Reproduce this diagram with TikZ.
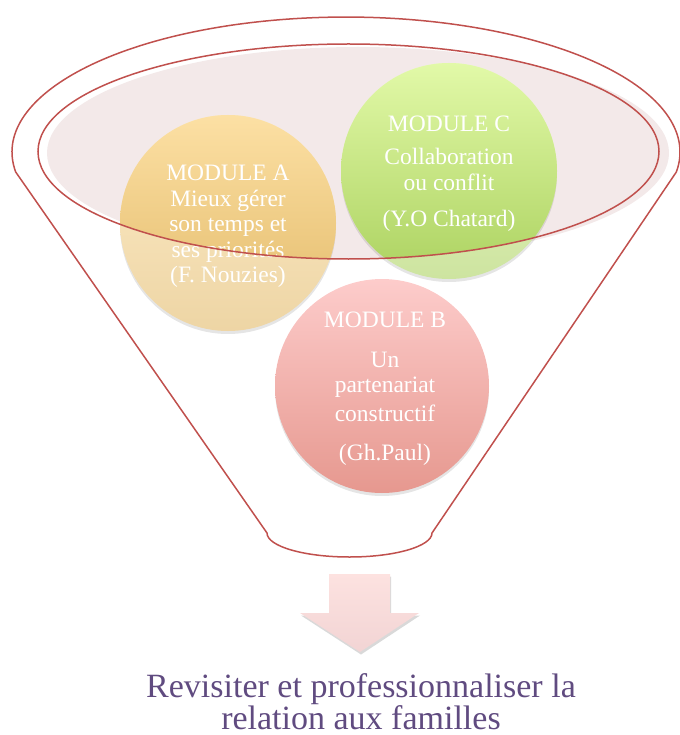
\documentclass[tikz,border=0pt]{standalone}
\usepackage{fontspec}
\setmainfont{Liberation Serif}
\definecolor{funnelred}{RGB}{192,80,77}
\definecolor{bowlpink}{RGB}{243,233,233}
\definecolor{atop}{RGB}{252,224,164}
\definecolor{abot}{RGB}{226,185,104}
\definecolor{ctop}{RGB}{226,249,168}
\definecolor{cbot}{RGB}{172,210,96}
\definecolor{btop}{RGB}{253,204,203}
\definecolor{bbot}{RGB}{230,152,143}
\definecolor{arrtop}{RGB}{253,226,224}
\definecolor{arrbot}{RGB}{242,212,212}
\definecolor{textpurple}{RGB}{96,75,128}
\begin{document}
\begin{tikzpicture}[x=1pt,y=-1pt,
 rim/.style={draw=funnelred,line width=1.5pt},
 modtext/.style={text=white,align=center,inner sep=0pt,anchor=north,font=\fontsize{23.5}{25.5}\selectfont},
 drop/.style={fill=black,opacity=0.1}]
 \useasboundingbox (0,0) rectangle (679,735);
 \fill[bowlpink](358,153) ellipse [x radius=311,y radius=106];
 \fill[drop](228,226) circle (108);
 \fill[drop](449,174) circle (108);
 \shade[top color=atop!60!white,bottom color=abot!60!white](228,223) circle (108);
 \shade[top color=ctop!60!white,bottom color=cbot!60!white](449,171) circle (108);
 \begin{scope}
 \clip (348.5,151.5) ellipse [x radius=310.5,y radius=107.5];
 \shade[top color=atop,bottom color=abot](228,223) circle (108);
 \shade[top color=ctop,bottom color=cbot](449,171) circle (108);
 \end{scope}
 \fill[drop](382,389) circle (107);
 \shade[top color=btop,bottom color=bbot](382,386) circle (107);
 \node[modtext] (modA) at (228,165) {MODULE A\\Mieux gérer\\son temps et\\ses priorités\\(F. Nouzies)};
 \node[modtext] (modC) at (449,116) {MODULE C\\[7pt]Collaboration\\[1pt]ou conflit\\[10pt](Y.O Chatard)};
 \node[modtext] (modB) at (385,312) {MODULE B\\[14pt]Un\\partenariat\\[3pt]constructif\\[14pt](Gh.Paul)};
 \draw[rim](348.5,151.5) ellipse [x radius=310.5,y radius=107.5];
 \draw[rim](15.7,172) arc [start angle=171.5,end angle=368.5,x radius=334,y radius=135] -- (432,533) arc [start angle=0,end angle=180,x radius=82.5,y radius=24] -- cycle;
 \fill[black,opacity=0.15](330,576.5)--(391,576.5)--(391,615.5)--(420,615.5)--(361,654.5)--(301,615.5)--(330,615.5)--cycle;
 \shade[top color=arrtop,bottom color=arrbot](329,574)--(390,574)--(390,613)--(419,613)--(360,652)--(300,613)--(329,613)--cycle;
 \node[anchor=north,inner sep=0pt,align=center,text=textpurple,font=\fontsize{34}{29}\selectfont] (outcome) at (361,673) {Revisiter et professionnaliser la\\relation aux familles};
\end{tikzpicture}
\end{document}
